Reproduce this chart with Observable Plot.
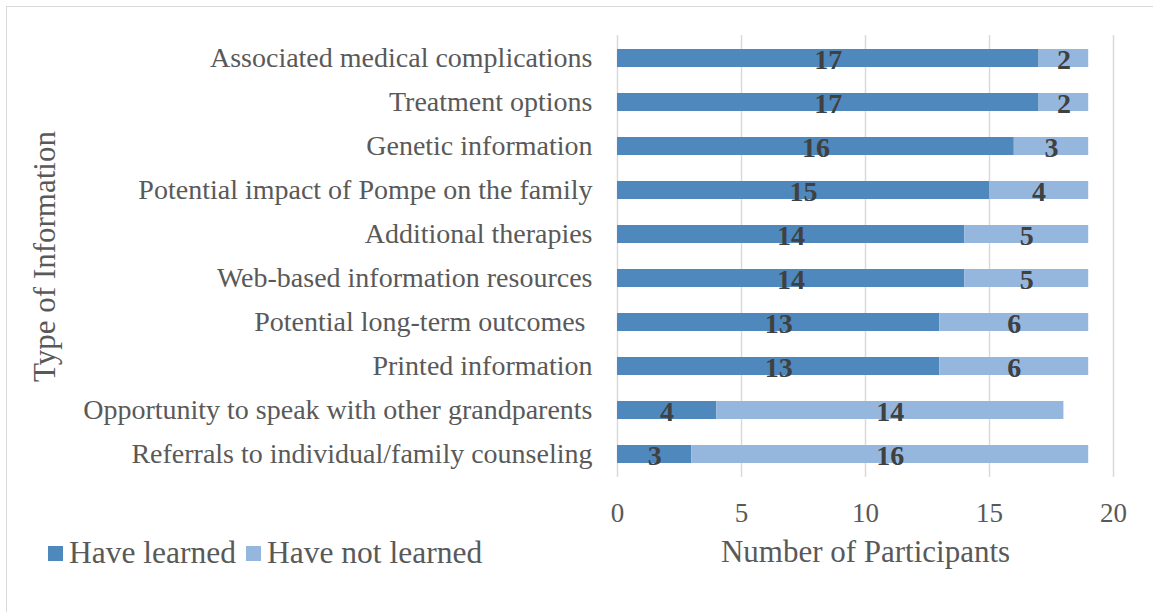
<!DOCTYPE html>
<html><head><meta charset="utf-8">
<script src="https://cdn.jsdelivr.net/npm/d3@7"></script>
<script src="https://cdn.jsdelivr.net/npm/@observablehq/plot@0.6"></script>
<style>
html,body{margin:0;padding:0;background:#fff;overflow:hidden;}
#wrap{position:relative;width:1153px;height:612px;}
#frame{position:absolute;left:6px;top:6px;width:1200px;height:700px;border:1.5px solid #d9d9d9;box-sizing:border-box;}
#legend{position:absolute;left:48px;top:534px;height:38px;font-family:"Liberation Serif","Times New Roman",serif;font-size:31.5px;color:#595959;display:flex;align-items:center;white-space:nowrap;}
#legend span.sw{display:inline-block;width:15px;height:15px;margin-right:6px;}
#legend span.item{display:inline-flex;align-items:center;margin-right:10px;}
svg{position:absolute;left:0;top:0;}
</style></head>
<body><div id="wrap"><div id="frame"></div><div id="legend"></div></div>
<script>
const categories = [
  "Associated medical complications",
  "Treatment options",
  "Genetic information",
  "Potential impact of Pompe on the family",
  "Additional therapies",
  "Web-based information resources",
  "Potential long-term outcomes ",
  "Printed information",
  "Opportunity to speak with other grandparents",
  "Referrals to individual/family counseling"
];
const haveLearned =    [17, 17, 16, 15, 14, 14, 13, 13, 4, 3];
const haveNotLearned = [2, 2, 3, 4, 5, 5, 6, 6, 14, 16];
const seriesNames = ["Have learned", "Have not learned"];
const seriesColors = ["#4f88bd", "#95b7de"];
const xTicks = [0, 5, 10, 15, 20];

const rows = [];
categories.forEach((c, i) => {
  rows.push({cat: c, series: seriesNames[0], v: haveLearned[i]});
  rows.push({cat: c, series: seriesNames[1], v: haveNotLearned[i]});
});

const serif = '"Liberation Serif","Times New Roman",serif';
const chart = Plot.plot({
  width: 1153, height: 612,
  marginLeft: 617, marginRight: 40, marginTop: 35, marginBottom: 135,
  style: {fontFamily: serif, background: "transparent", color: "#595959"},
  x: {domain: [0, 20], ticks: xTicks, label: null},
  y: {domain: categories, label: null, paddingInner: 0.6, paddingOuter: 0.3},
  color: {domain: seriesNames, range: seriesColors},
  marks: [
    Plot.gridX(xTicks, {stroke: "#d9d9d9", strokeOpacity: 1, strokeWidth: 1.5}),
    Plot.barX(rows, Plot.stackX({x: "v", y: "cat", fill: "series", order: seriesNames})),
    Plot.text(rows, Plot.stackX({x: "v", y: "cat", z: "series", order: seriesNames, text: d => String(d.v),
      fill: "#404040", fontWeight: "bold", fontSize: 28, dy: 2})),
    Plot.axisX(xTicks, {tickSize: 0, tickPadding: 25, fontSize: 27, fill: "#595959", label: null}),
    Plot.axisY({tickSize: 0, tickPadding: 25, fontSize: 28, fill: "#595959", label: null}),
    Plot.text(["Number of Participants"], {frameAnchor: "bottom", dy: 84, fontSize: 31, fill: "#595959"}),
    Plot.text(["Type of Information"], {frameAnchor: "left", textAnchor: "middle", dx: -572, rotate: -90, fontSize: 31, fill: "#595959"})
  ]
});
document.getElementById("wrap").appendChild(chart);

const lg = document.getElementById("legend");
seriesNames.forEach((n, i) => {
  const it = document.createElement("span"); it.className = "item";
  const sw = document.createElement("span"); sw.className = "sw"; sw.style.background = seriesColors[i];
  it.appendChild(sw); it.appendChild(document.createTextNode(n));
  lg.appendChild(it);
});
</script></body></html>
